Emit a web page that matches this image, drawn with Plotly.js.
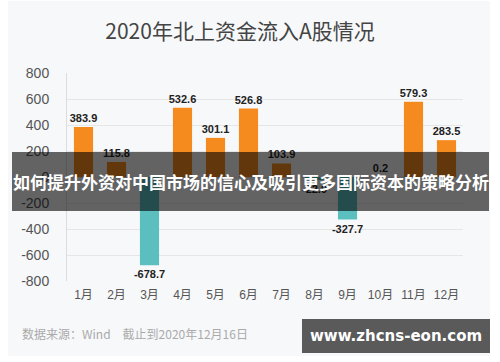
<!DOCTYPE html>
<html><head><meta charset="utf-8">
<script src="https://cdn.plot.ly/plotly-3.0.1.min.js"></script>
<style>html,body{margin:0;padding:0;background:#fff}#chart{width:500px;height:362px}</style>
</head><body><div id="chart"></div>
<script>
const months = ['1月','2月','3月','4月','5月','6月','7月','8月','9月','10月','11月','12月'];
const inflows = [383.9, 115.8, -678.7, 532.6, 301.1, 526.8, 103.9, -22.9, -327.7, 0.2, 579.3, 283.5];
const yTicks = [-800, -600, -400, -200, 0, 200, 400, 600, 800];
const titleText = '2020年北上资金流入A股情况';
const sourceText = '数据来源：Wind　截止到2020年12月16日';
const bannerText = '如何提升外资对中国市场的信心及吸引更多国际资本的策略分析';
const watermarkText = 'www.zhcns-eon.com';

const ML = 67, MR = 37, MT = 73, MB = 81, W = 500, H = 362;
const PW = W - ML - MR, PH = H - MT - MB;
const px = x => (x - ML) / PW;
const py = y => (H - MB - y) / PH;

const posColor = '#f58a1f', negColor = '#5cbfbf';
const colors = inflows.map(v => v >= 0 ? posColor : negColor);

const trace = {
  type: 'bar', x: months, y: inflows,
  marker: {color: colors, line: {width: 0}},
  width: 0.58,
  texttemplate: '%{y:.1f}', textposition: 'outside', cliponaxis: false, constraintext: 'none',
  textfont: {family: 'Liberation Sans, Arial, sans-serif', size: 11, color: '#222', weight: 700},
  hoverinfo: 'none'
};

const layout = {
  width: W, height: H,
  margin: {l: ML, r: MR, t: MT, b: MB, pad: 0},
  paper_bgcolor: '#ffffff', plot_bgcolor: 'rgba(0,0,0,0)',
  showlegend: false,
  title: {text: titleText, x: 240 / W, xanchor: 'center', xref: 'container', y: 1 - 32 / H, yanchor: 'middle', yref: 'container',
    font: {family: 'Noto Sans CJK SC, sans-serif', size: 21, color: '#444'}},
  xaxis: {type: 'category', showgrid: false, zeroline: false, showline: false, ticks: '',
    tickfont: {family: 'Liberation Sans, Noto Sans CJK SC, sans-serif', size: 12, color: '#555'}, ticklabelstandoff: 5},
  yaxis: {range: [-800, 800], tickvals: yTicks, ticktext: yTicks.map(String), showgrid: true, gridcolor: '#e6e6e6', gridwidth: 1,
    zeroline: false, showline: true, linecolor: '#dddddd', linewidth: 1, ticks: '',
    tickfont: {family: 'Liberation Sans, Arial, sans-serif', size: 14, color: '#555'}, ticklabelstandoff: 14},
  bargap: 0.42,
  shapes: [
    {type: 'rect', xref: 'paper', yref: 'paper', x0: px(8), x1: px(490), y0: py(356), y1: py(1), fillcolor: '#f7f8fa', line: {width: 0}, layer: 'below'},
    {type: 'rect', xref: 'paper', yref: 'paper', x0: px(12), x1: px(489), y0: py(211), y1: py(152), fillcolor: 'rgba(0,0,0,0.6)', line: {width: 0}, layer: 'above'},
    {type: 'rect', xref: 'paper', yref: 'paper', x0: px(302), x1: px(490), y0: py(353), y1: py(319), fillcolor: '#5a5a5a', line: {width: 0}, layer: 'above'}
  ],
  annotations: [
    {text: sourceText, xref: 'paper', yref: 'paper', x: px(20), y: py(333), xanchor: 'left', yanchor: 'middle', showarrow: false,
      font: {family: 'Noto Sans CJK SC, sans-serif', size: 12, color: '#aaaaaa'}},
    {text: bannerText, xref: 'paper', yref: 'paper', x: px(250.5), y: py(181), xanchor: 'center', yanchor: 'middle', showarrow: false,
      font: {family: 'Noto Sans CJK SC, sans-serif', size: 17, color: '#ffffff', weight: 700}},
    {text: watermarkText, xref: 'paper', yref: 'paper', x: px(396), y: py(336), xanchor: 'center', yanchor: 'middle', showarrow: false,
      font: {family: 'DejaVu Sans, sans-serif', size: 15, color: '#ffffff', weight: 700}}
  ]
};

Plotly.newPlot('chart', [trace], layout, {displayModeBar: false, staticPlot: true});
</script></body></html>
